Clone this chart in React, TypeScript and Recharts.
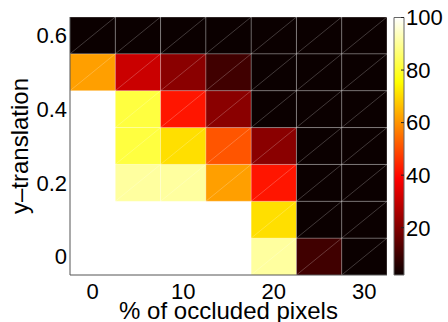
import React from 'react';
import {
  ScatterChart, XAxis, YAxis, ReferenceArea, ReferenceLine, Label,
  BarChart, Bar
} from 'recharts';

// % of occluded pixels (columns) and y-translation (rows)
const X_VALUES = [0, 5, 10, 15, 20, 25, 30];
const Y_VALUES = [0, 0.1, 0.2, 0.3, 0.4, 0.5, 0.6];

// accuracy per cell, one row per y-translation (bottom row first)
const ROW_0 = [100, 100, 100, 100, 91, 9, 2];
const ROW_1 = [100, 100, 100, 100, 70, 2, 2];
const ROW_2 = [100, 91, 91, 61, 41, 2, 2];
const ROW_3 = [100, 81, 70, 50, 21, 2, 2];
const ROW_4 = [100, 81, 41, 21, 2, 2, 2];
const ROW_5 = [61, 30, 21, 9, 2, 2, 2];
const ROW_6 = [2, 2, 2, 2, 2, 2, 2];
const ROWS = [ROW_0, ROW_1, ROW_2, ROW_3, ROW_4, ROW_5, ROW_6];

const X_TICKS = [0, 10, 20, 30];
const Y_TICKS = [0, 0.2, 0.4, 0.6];
const CBAR_TICKS = [20, 40, 60, 80, 100];
const CBAR_RANGE: [number, number] = [2, 100];

const FONT = '"Liberation Sans", Arial, Helvetica, sans-serif';
const X_STEP = 5;
const Y_STEP = 0.1;

const clamp = (v: number) => Math.max(0, Math.min(1, v));

// matlab-style hot(64)
const hot = (v: number) => {
  const t = clamp((v - CBAR_RANGE[0]) / (CBAR_RANGE[1] - CBAR_RANGE[0]));
  const i = Math.round(t * 63) + 1;
  const r = Math.round(clamp(i / 24) * 255);
  const g = Math.round(clamp((i - 24) / 24) * 255);
  const b = Math.round(clamp((i - 48) / 16) * 255);
  return `rgb(${r},${g},${b})`;
};

const CellShape = (p: any) => (
  <g>
    <rect x={p.x} y={p.y} width={p.width} height={p.height} fill={p.fill} />
    <line
      x1={p.x} y1={p.y + p.height} x2={p.x + p.width} y2={p.y}
      stroke="rgba(255,255,255,0.22)" strokeWidth={1}
    />
  </g>
);

const cells = ROWS.flatMap((row, i) =>
  row.map((v, j) => ({ x: X_VALUES[j], y: Y_VALUES[i], v }))
);

const xEdges = X_VALUES.map((x) => x + X_STEP / 2);
const yEdges = Y_VALUES.map((y) => y + Y_STEP / 2);

const XLabel = ({ viewBox }: any) => (
  <text
    x={viewBox.x + viewBox.width / 2} y={viewBox.y + 44}
    textAnchor="middle" fontSize={24} fontFamily={FONT} fill="#000"
  >
    % of occluded pixels
  </text>
);

const YLabel = ({ viewBox }: any) => {
  const cy = viewBox.y + viewBox.height / 2;
  return (
    <text
      x={28} y={cy} transform={`rotate(-90, 28, ${cy})`}
      textAnchor="middle" fontSize={24} fontFamily={FONT} fill="#000"
    >
      y–translation
    </text>
  );
};

const cbarData = [{ name: 'scale', range: CBAR_RANGE }];

export default function App() {
  return (
    <div style={{ position: 'absolute', left: 0, top: 0, width: 448, height: 322, background: '#fff' }}>
      <div style={{ position: 'absolute', left: 0, top: 0 }}>
        <ScatterChart width={448} height={322} margin={{ top: 17, right: 61, bottom: 0, left: 0 }}>
          <XAxis
            type="number" dataKey="x" domain={[-2.5, 32.5]} ticks={X_TICKS}
            height={47} tickSize={0} tickMargin={8} allowDataOverflow
            axisLine={{ stroke: '#555' }}
            tick={{ fontSize: 22, fill: '#000', fontFamily: FONT }}
          >
            <Label content={<XLabel />} />
          </XAxis>
          <YAxis
            type="number" dataKey="y" domain={[-0.05, 0.65]} ticks={Y_TICKS}
            width={70} tickSize={0} tickMargin={3} allowDataOverflow
            axisLine={{ stroke: '#555' }}
            tickFormatter={(v: number) => String(v)}
            tick={{ fontSize: 22, fill: '#000', fontFamily: FONT }}
          >
            <Label content={<YLabel />} />
          </YAxis>
          {cells.map((c) => (
            <ReferenceArea
              key={`${c.x}-${c.y}`}
              x1={c.x - X_STEP / 2} x2={c.x + X_STEP / 2}
              y1={c.y - Y_STEP / 2} y2={c.y + Y_STEP / 2}
              fill={hot(c.v)} fillOpacity={1} stroke="none"
              shape={<CellShape />}
            />
          ))}
          {xEdges.map((x) => (
            <ReferenceLine key={`vx${x}`} x={x} stroke="rgba(255,255,255,0.3)" strokeWidth={1} />
          ))}
          {yEdges.map((y) => (
            <ReferenceLine key={`hy${y}`} y={y} stroke="rgba(255,255,255,0.3)" strokeWidth={1} />
          ))}
        </ScatterChart>
      </div>
      <div style={{ position: 'absolute', left: 388, top: 0 }}>
        <BarChart
          width={60} height={322} data={cbarData}
          margin={{ top: 17.5, right: 0, bottom: 47, left: 6 }}
          barCategoryGap={0}
        >
          <defs>
            <linearGradient id="hotGrad" x1="0" y1="1" x2="0" y2="0">
              <stop offset="0" stopColor={hot(CBAR_RANGE[0])} />
              <stop offset="0.375" stopColor="rgb(255,0,0)" />
              <stop offset="0.75" stopColor="rgb(255,255,0)" />
              <stop offset="1" stopColor="rgb(255,255,255)" />
            </linearGradient>
          </defs>
          <XAxis dataKey="name" hide />
          <YAxis
            orientation="right" type="number" domain={CBAR_RANGE} ticks={CBAR_TICKS}
            width={44} tickSize={-3} tickMargin={5} axisLine={false}
            tickLine={{ stroke: '#222' }}
            tick={{ fontSize: 22, fill: '#000', fontFamily: FONT }}
          />
          <Bar dataKey="range" fill="url(#hotGrad)" stroke="#666" strokeWidth={1} isAnimationActive={false} />
        </BarChart>
      </div>
    </div>
  );
}
